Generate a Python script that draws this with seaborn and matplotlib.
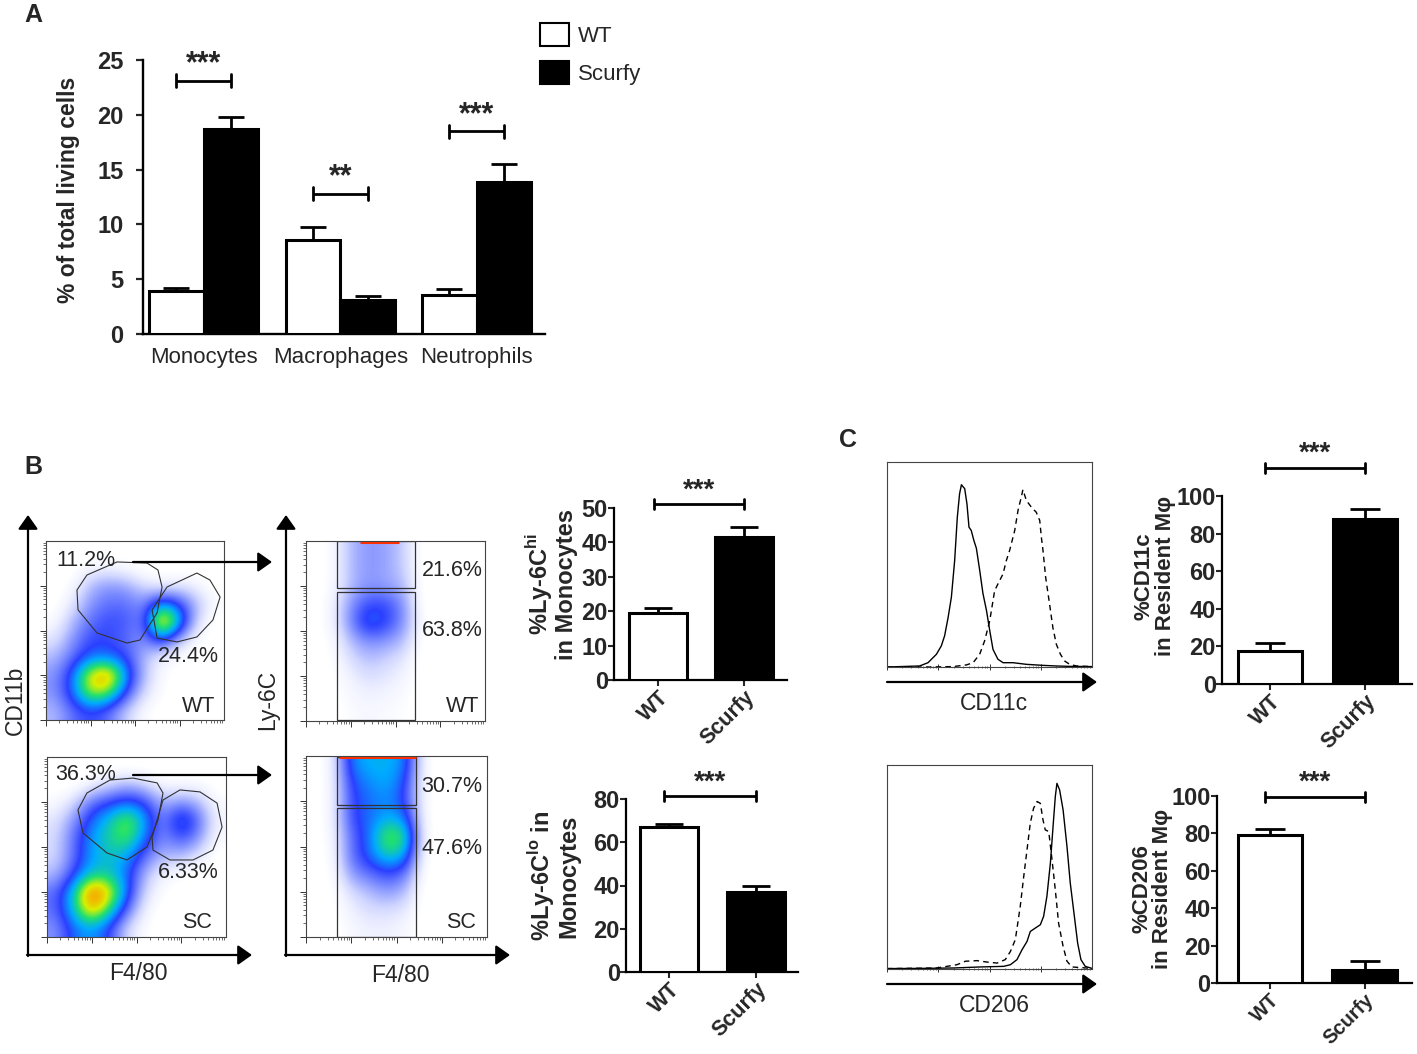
import numpy as np
import pandas as pd
import seaborn as sns
import matplotlib
matplotlib.use('Agg')
import matplotlib.pyplot as plt
from matplotlib.patches import Polygon, Rectangle, FancyArrowPatch
from matplotlib.colors import LinearSegmentedColormap

# ---------------- data ----------------
# Panel A
cells = ['Monocytes', 'Macrophages', 'Neutrophils']
wt_pct = [3.9, 8.6, 3.6]
wt_sem = [0.3, 1.2, 0.5]
sc_pct = [18.7, 3.1, 13.9]
sc_sem = [1.1, 0.4, 1.6]
sig_a_y = [23.1, 12.8, 18.5]
sig_a = ['***', '**', '***']

groups = ['WT', 'Scurfy']
# Panel B bar charts
ly6c_hi = [19.4, 41.7]
ly6c_hi_err = [1.4, 2.9]
ly6c_hi_sig = 51.1
ly6c_lo = [67.0, 36.8]
ly6c_lo_err = [1.4, 3.1]
ly6c_lo_sig = 81.2
# Panel C bar charts
cd11c_pos = [17.7, 87.6]
cd11c_err = [3.9, 5.3]
cd11c_sig = 115.0
cd206_pos = [78.9, 7.2]
cd206_err = [3.7, 4.4]
cd206_sig = 99.6

# Panel B flow plots: coarse density levels (rows top -> bottom, 10x10 on 0-100 scale)
cd11b_wt = [
    [0, 0, 0, 0, 0, 0, 0, 0, 0, 0],
    [0, 0, 0.5, 0.5, 0.3, 0, 0, 0, 0, 0],
    [0, 0.3, 1.5, 2, 1.8, 1, 0.5, 0.8, 0.5, 0],
    [0, 0.8, 2, 2.5, 2.5, 2, 4, 3, 1.5, 0.3],
    [0.3, 1.5, 2.5, 3, 2.8, 2.2, 8, 4.5, 1, 0],
    [0.8, 2, 3, 3, 2.5, 2, 3.5, 1.5, 0.3, 0],
    [1.5, 2.5, 3.5, 3.5, 3, 1.5, 0.5, 0.2, 0, 0],
    [2, 3.5, 6.5, 7.5, 4, 1.5, 0.3, 0, 0, 0],
    [2, 3.5, 6, 5.5, 3, 1, 0.2, 0, 0, 0],
    [1.5, 2.5, 3, 2.5, 1.2, 0.3, 0, 0, 0, 0],
]
cd11b_sc = [
    [0, 0, 0, 0, 0, 0, 0, 0, 0, 0],
    [0, 0, 0.5, 1, 1.5, 1, 0.3, 0.3, 0.3, 0],
    [0.3, 1, 2.5, 3, 3.5, 3, 1.5, 2, 1.5, 0.3],
    [0.8, 2, 3.5, 4.5, 5.8, 4, 2, 4.2, 2.5, 0.5],
    [1, 2.5, 4, 4.8, 5.5, 3.5, 2, 3, 2, 0.3],
    [1, 2.5, 4, 4.5, 4, 2.5, 1.5, 1.5, 0.8, 0],
    [1.5, 3, 4.5, 4.5, 3.5, 1.5, 0.5, 0.3, 0, 0],
    [2.5, 4.5, 8, 6.5, 3.5, 1, 0.2, 0, 0, 0],
    [2.5, 4.5, 7, 5, 2.5, 0.5, 0, 0, 0, 0],
    [2, 3.5, 4, 3, 1, 0.2, 0, 0, 0, 0],
]
ly6c_wt = [
    [0, 0.3, 1.5, 2, 1.8, 1.2, 0, 0, 0, 0],
    [0, 0.3, 1.5, 2, 1.8, 1.2, 0, 0, 0, 0],
    [0, 0.3, 1.5, 2, 1.8, 1.5, 0, 0, 0, 0],
    [0, 0.5, 2, 3, 3, 2, 0, 0, 0, 0],
    [0, 0.5, 2.2, 3.8, 3.2, 2, 0.2, 0, 0, 0],
    [0, 0.3, 1.5, 2.2, 2, 1.5, 0, 0, 0, 0],
    [0, 0.2, 1, 1.5, 1.2, 0.8, 0, 0, 0, 0],
    [0, 0.1, 0.6, 1, 0.8, 0.5, 0, 0, 0, 0],
    [0, 0.1, 0.4, 0.6, 0.5, 0.3, 0, 0, 0, 0],
    [0, 0, 0.3, 0.4, 0.3, 0.2, 0, 0, 0, 0],
]
ly6c_sc = [
    [0, 0.5, 3.8, 4.2, 4.2, 3.8, 0.3, 0, 0, 0],
    [0, 0.5, 3.2, 3.8, 4.2, 3.2, 0.3, 0, 0, 0],
    [0, 0.5, 3, 3.5, 3.8, 3, 0.3, 0, 0, 0],
    [0, 0.5, 3, 3.5, 4.2, 3.8, 0.3, 0, 0, 0],
    [0, 0.4, 2.5, 3.5, 5.8, 5.2, 0.3, 0, 0, 0],
    [0, 0.3, 2.5, 3.5, 4.8, 4.2, 0.2, 0, 0, 0],
    [0, 0.2, 2, 2.5, 3, 2.5, 0.1, 0, 0, 0],
    [0, 0.1, 1, 1.5, 2, 1.5, 0, 0, 0, 0],
    [0, 0.1, 0.6, 1, 1, 0.8, 0, 0, 0, 0],
    [0, 0, 0.4, 0.6, 0.6, 0.4, 0, 0, 0, 0],
]
# pile-up of events on the top edge of the Ly-6C plots (x range)
ly6c_wt_edge = (30, 52)
ly6c_sc_edge = (18, 61)

# gates (F4/80, CD11b) on a 0-100 scale
gate_mono_wt = [(17.4, 72.6), (23.0, 81.0), (39.9, 88.3), (56.7, 87.7), (62.9, 83.8), (65.2, 74.3),
                (62.4, 59.8), (52.8, 44.7), (45.5, 43.0), (28.7, 48.6), (18.0, 61.5)]
gate_mac_wt = [(59.6, 61.5), (68.0, 74.3), (84.8, 82.1), (92.1, 78.2), (97.8, 68.7), (93.8, 55.9),
               (84.8, 46.4), (73.6, 43.6), (62.4, 45.8)]
gate_mono_sc = [(17.3, 70.6), (22.3, 80.0), (35.2, 87.2), (48.0, 88.3), (61.5, 85.6), (64.8, 80.0),
                (62.0, 65.0), (55.9, 50.0), (44.7, 42.8), (33.5, 46.7), (20.1, 57.8)]
gate_mac_sc = [(58.7, 55.6), (64.8, 76.1), (74.3, 81.7), (85.5, 80.6), (95.0, 74.4), (97.8, 61.1),
               (92.7, 48.3), (81.6, 42.8), (68.7, 42.8), (59.2, 48.3)]
# Ly-6C gates (x0, x1, y0, y1)
gates_ly6c_wt = [(17.3, 60.9, 73.9, 100), (17.3, 60.9, 0.6, 71.7)]
gates_ly6c_sc = [(17.1, 60.8, 73.0, 99.4), (17.1, 60.8, 0, 71.3)]

# Panel C histograms (channel 0-100, % of max)
cd11c_x_wt = [0, 15.9, 20.0, 24.1, 26.5, 28.1, 29.8, 31.4, 33.0, 34.3, 35.4, 36.3, 37.9, 39.0, 40.0, 41.1,
              42.3, 43.6, 45.2, 46.8, 48.5, 50.1, 51.7, 54.1, 56.6, 61.5, 68.0, 76.1, 82.6, 89.1, 100]
cd11c_y_wt = [0, 0.5, 2.1, 6.2, 10.3, 15.2, 24.1, 34.0, 51.9, 73.1, 84.5, 88.9, 87.0, 79.6, 68.2, 66.6,
              62.0, 57.9, 47.3, 35.9, 27.7, 17.9, 8.6, 3.8, 2.1, 2.1, 1.3, 0.8, 0.5, 0.3, 0.2]
cd11c_x_sc = [0, 20.8, 32.2, 38.7, 42.0, 45.2, 47.6, 50.1, 52.5, 54.1, 56.6, 58.2, 59.8, 62.3, 63.9, 65.5,
              66.3, 68.0, 70.4, 72.8, 74.5, 75.3, 76.1, 77.4, 79.3, 80.9, 82.6, 84.6, 86.7, 89.1, 92.4, 100]
cd11c_y_sc = [0, 0, 0.2, 1.0, 2.1, 6.2, 12.7, 22.5, 37.2, 40.5, 45.4, 51.9, 56.8, 66.6, 76.3, 82.9,
              86.5, 81.2, 78.0, 75.5, 71.5, 63.3, 56.8, 43.7, 30.7, 19.3, 11.1, 6.2, 2.9, 1.3, 0.5, 0.2]
cd206_x_wt = [0, 16.3, 32.5, 45.5, 56.9, 60.2, 63.4, 65.9, 68.3, 69.9, 72.4, 74.8, 76.4, 78.0, 79.7, 81.0,
              82.1, 82.9, 84.2, 85.9, 87.8, 89.4, 91.4, 93.0, 94.6, 96.7, 100]
cd206_y_wt = [0.2, 0.3, 0.5, 1.0, 1.3, 2.1, 4.6, 9.5, 13.5, 18.4, 20.1, 21.7, 25.8, 35.6, 51.9, 69.8,
              84.5, 91.0, 87.8, 78.0, 60.0, 42.1, 25.8, 12.7, 4.6, 1.3, 0.3]
cd206_x_sc = [0, 24.4, 34.1, 38.2, 43.9, 48.8, 53.7, 57.7, 60.2, 62.6, 65.0, 66.7, 68.3, 69.9, 71.5, 73.2,
              74.8, 76.1, 77.2, 78.9, 80.5, 82.1, 83.7, 85.9, 87.8, 90.2, 100]
cd206_y_sc = [0.2, 0.5, 2.1, 3.8, 4.1, 3.4, 2.9, 4.6, 8.6, 14.4, 30.7, 45.4, 58.4, 71.5, 78.8, 82.1,
              81.2, 73.1, 68.2, 67.4, 53.5, 38.8, 22.5, 11.1, 3.8, 1.0, 0.3]

# ---------------- figure setup ----------------
W, H = 1417, 1054
sns.set_theme(style='white')
plt.rcParams['font.family'] = ['Liberation Sans', 'DejaVu Sans']
plt.rcParams['mathtext.fontset'] = 'custom'
plt.rcParams['mathtext.rm'] = 'Liberation Sans'
plt.rcParams['mathtext.bf'] = 'Liberation Sans:bold'
plt.rcParams['axes.edgecolor'] = 'black'

fig = plt.figure(figsize=(W / 100, H / 100), dpi=100)
pal = {'WT': 'white', 'Scurfy': 'black'}


def px_axes(x0, y0, x1, y1):
    return fig.add_axes([x0 / W, 1 - y1 / H, (x1 - x0) / W, (y1 - y0) / H])


def ftext(x, y, s, **kw):
    fig.text(x / W, 1 - y / H, s, **kw)


def farrow(x0, y0, x1, y1, lw=1.6):
    fig.add_artist(FancyArrowPatch((x0 / W, 1 - y0 / H), (x1 / W, 1 - y1 / H),
                                   transform=fig.transFigure,
                                   arrowstyle='-|>,head_length=0.85,head_width=0.6',
                                   mutation_scale=10, lw=lw, color='black',
                                   shrinkA=0, shrinkB=0))


def sig_bar(ax, x0, x1, y, label, tick, size=18):
    ax.plot([x0, x1], [y, y], color='black', lw=2, clip_on=False, solid_capstyle='butt')
    for x in (x0, x1):
        ax.plot([x, x], [y - tick, y + tick], color='black', lw=2, clip_on=False)
    ax.text((x0 + x1) / 2, y + tick * 0.2, label, ha='center', va='bottom',
            fontsize=size, fontweight='bold', clip_on=False)


def add_errors(ax, bars, errs, capsize):
    for bar, e in zip(bars, errs):
        cx = bar.get_x() + bar.get_width() / 2
        top = bar.get_height()
        ax.errorbar(cx, top, yerr=[[0], [e]], fmt='none', ecolor='black',
                    elinewidth=2, capsize=capsize, capthick=2, zorder=1)


def small_bar(rect, vals, errs, ylim, ystep, xlim, sig_y, width, capsize):
    ax = px_axes(*rect)
    df = pd.DataFrame({'group': groups, 'value': vals})
    sns.barplot(data=df, x='group', y='value', hue='group', palette=pal,
                edgecolor='black', linewidth=2.2, width=width, errorbar=None,
                legend=False, ax=ax, zorder=3)
    add_errors(ax, ax.patches[:2], errs, capsize)
    ax.set_ylim(0, ylim)
    ax.set_xlim(*xlim)
    ax.set_yticks(np.arange(0, ylim + 1, ystep))
    ax.set_xlabel('')
    ax.set_ylabel('')
    for s in ['top', 'right']:
        ax.spines[s].set_visible(False)
    for s in ['left', 'bottom']:
        ax.spines[s].set_linewidth(1.6)
    ax.tick_params(axis='y', direction='out', length=4, width=1.5, pad=0.5, left=True,
                   labelsize=17)
    ax.tick_params(axis='x', direction='out', length=4, width=1.5, bottom=True, pad=1,
                   labelsize=15.5)
    for t in ax.get_yticklabels():
        t.set_fontweight('bold')
    ax.set_xticks([0, 1])
    ax.set_xticklabels(groups, rotation=45, ha='right', va='top', rotation_mode='anchor',
                       fontweight='bold')
    ax.set_facecolor('none')
    px_unit = (rect[3] - rect[1]) / ylim
    sig_bar(ax, -0.05, 1.0, sig_y, '***', 5 / px_unit, size=20)
    return ax


def log_ticks(ax, axes='xy', direction='out'):
    minors = 25 * np.log10(np.arange(1, 10)[None, :] * 10.0 ** np.arange(4)[:, None]).ravel()
    majors = [0, 25, 50, 75]
    if 'x' in axes:
        ax.set_xticks(majors)
        ax.set_xticks(minors, minor=True)
        ax.tick_params(axis='x', which='major', bottom=True, length=4, width=0.7,
                       direction=direction, labelbottom=False, color='#333333')
        ax.tick_params(axis='x', which='minor', bottom=True, length=2, width=0.5,
                       direction=direction, color='#333333')
    else:
        ax.set_xticks([])
    if 'y' in axes:
        ax.set_yticks(majors)
        ax.set_yticks(minors, minor=True)
        ax.tick_params(axis='y', which='major', left=True, length=4, width=0.7,
                       direction=direction, labelleft=False, color='#333333')
        ax.tick_params(axis='y', which='minor', left=True, length=2, width=0.5,
                       direction=direction, color='#333333')
    else:
        ax.set_yticks([])


flow_cmap = LinearSegmentedColormap.from_list('flow', [
    (0.0, '#ffffff'), (0.06, '#eef0ff'), (0.125, '#cfd5ff'), (0.25, '#7c8cff'),
    (0.375, '#2a40ff'), (0.5, '#00aaff'), (0.625, '#20e070'), (0.75, '#d8f000'),
    (0.875, '#ff9a00'), (1.0, '#ff1000')])
flow_cmap.set_under('white')


def flow_plot(rect, grid):
    ax = px_axes(*rect)
    ax.imshow(np.array(grid, dtype=float), extent=(0, 100, 0, 100), origin='upper',
              cmap=flow_cmap, vmin=0.15, vmax=8, interpolation='bicubic', aspect='auto')
    ax.set_xlim(0, 100)
    ax.set_ylim(0, 100)
    for s in ax.spines.values():
        s.set_linewidth(0.8)
        s.set_color('#444444')
    log_ticks(ax)
    return ax


# ---------------- Panel A ----------------
axA = px_axes(143, 60, 545, 334)
dfA = pd.DataFrame({'cell': cells * 2,
                    'group': ['WT'] * 3 + ['Scurfy'] * 3,
                    'pct': wt_pct + sc_pct})
sns.barplot(data=dfA, x='cell', y='pct', hue='group', hue_order=groups, palette=pal,
            edgecolor='black', linewidth=2.2, width=0.8, errorbar=None, legend=False,
            ax=axA, zorder=3)
for cont, errs in zip(axA.containers, [wt_sem, sc_sem]):
    add_errors(axA, cont, errs, capsize=9.5)
axA.set_xlim(-0.445, 2.5)
axA.set_ylim(0, 25)
axA.set_yticks([0, 5, 10, 15, 20, 25])
axA.set_xlabel('')
axA.set_ylabel('')
for s in ['top', 'right']:
    axA.spines[s].set_visible(False)
for s in ['left', 'bottom']:
    axA.spines[s].set_linewidth(1.7)
axA.tick_params(axis='y', left=True, direction='out', length=5, width=1.6, pad=9,
                labelsize=17)
axA.tick_params(axis='x', length=0, pad=9, labelsize=16)
for t in axA.get_yticklabels():
    t.set_fontweight('bold')
axA.set_facecolor('none')
for i, (y, lab) in enumerate(zip(sig_a_y, sig_a)):
    sig_bar(axA, i - 0.2, i + 0.2, y, lab, 0.6, size=22)
ftext(68, 190, '% of total living cells', rotation=90, ha='center', va='center',
      fontsize=16.5, fontweight='bold')
ftext(33, 15, 'A', ha='center', va='center', fontsize=18, fontweight='bold')

handles = [Rectangle((0, 0), 1, 1, fc='white', ec='black', lw=1.5),
           Rectangle((0, 0), 1, 1, fc='black', ec='black', lw=1.5)]
fig.legend(handles, groups, loc='upper left', bbox_to_anchor=(540 / W, 1 - 23 / H),
           frameon=False, fontsize=16, handlelength=1.3, handleheight=1.2,
           labelspacing=0.65, handletextpad=0.4, borderpad=0, borderaxespad=0)

# ---------------- Panel B: flow plots ----------------
ftext(33, 467, 'B', ha='center', va='center', fontsize=18, fontweight='bold')
p1 = flow_plot((46, 541, 224, 720), cd11b_wt)
p2 = flow_plot((47, 757, 226, 937), cd11b_sc)
p3 = flow_plot((306, 541, 485, 721), ly6c_wt)
p4 = flow_plot((306, 756, 487, 937), ly6c_sc)
for ax, gates in ((p1, [gate_mono_wt, gate_mac_wt]), (p2, [gate_mono_sc, gate_mac_sc])):
    for g in gates:
        ax.add_patch(Polygon(g, closed=True, fill=False, ec='#333333', lw=0.8))
for ax, gates, edge in ((p3, gates_ly6c_wt, ly6c_wt_edge), (p4, gates_ly6c_sc, ly6c_sc_edge)):
    for x0, x1, y0, y1 in gates:
        ax.add_patch(Rectangle((x0, y0), x1 - x0, y1 - y0, fill=False, ec='#333333', lw=0.9))
    ax.plot(edge, [99.4, 99.4], color='#ff3000', lw=2.2, solid_capstyle='butt')

flow_text = [(86, 560, '11.2%'), (188, 657, '24.4%'), (199, 707, 'WT'),
             (86, 774, '36.3%'), (188, 872, '6.33%'), (197, 923, 'SC'),
             (452, 571, '21.6%'), (452, 631, '63.8%'), (463, 707, 'WT'),
             (452, 787, '30.7%'), (452, 848, '47.6%'), (461, 923, 'SC')]
for x, y, s in flow_text:
    ftext(x, y, s, ha='center', va='center', fontsize=15.5)

farrow(133, 562, 272, 562)
farrow(133, 775, 272, 775)
# big axis arrows
farrow(28, 956, 28, 515)
farrow(27, 955, 252, 955)
farrow(286, 956, 286, 515)
farrow(285, 955, 510, 955)
ftext(15, 700, 'CD11b', rotation=90, ha='center', va='center', fontsize=16.5)
ftext(138, 974, 'F4/80', ha='center', va='center', fontsize=16.5)
ftext(268, 700, 'Ly-6C', rotation=90, ha='center', va='center', fontsize=16.5)
ftext(400, 975, 'F4/80', ha='center', va='center', fontsize=16.5)

# ---------------- Panel B: bar charts ----------------
small_bar((614, 508, 787, 680), ly6c_hi, ly6c_hi_err, 50, 10, (-0.51, 1.5), ly6c_hi_sig, 0.67, 10)
ftext(551, 584, '%Ly-6C$^{\\bf hi}$\nin Monocytes', rotation=90, ha='center', va='center',
      fontsize=17, fontweight='bold', multialignment='center', linespacing=1.0)
small_bar((626, 799, 798, 972), ly6c_lo, ly6c_lo_err, 80, 20, (-0.49, 1.48), ly6c_lo_sig, 0.67, 10)
ftext(553, 876, '%Ly-6C$^{\\bf lo}$ in\nMonocytes', rotation=90, ha='center', va='center',
      fontsize=17, fontweight='bold', multialignment='center', linespacing=1.0)

# ---------------- Panel C ----------------
ftext(848, 440, 'C', ha='center', va='center', fontsize=18, fontweight='bold')
for rect, xs, ys, label, ly in (((887, 462, 1092, 667), (cd11c_x_wt, cd11c_x_sc),
                                 (cd11c_y_wt, cd11c_y_sc), 'CD11c', 703),
                                ((887, 765, 1092, 969), (cd206_x_wt, cd206_x_sc),
                                 (cd206_y_wt, cd206_y_sc), 'CD206', 1006)):
    ax = px_axes(*rect)
    ax.plot(xs[0], ys[0], color='black', lw=1.0)
    ax.plot(xs[1], ys[1], color='black', lw=1.0, dashes=(4, 3))
    ax.set_xlim(0, 100)
    ax.set_ylim(0, 100)
    for s in ax.spines.values():
        s.set_linewidth(0.8)
        s.set_color('#444444')
    log_ticks(ax, axes='x', direction='inout')
    farrow(887, rect[3] + 15, 1097, rect[3] + 15)
    ftext(994, ly, label, ha='center', va='center', fontsize=16.5)

small_bar((1222, 496, 1412, 684), cd11c_pos, cd11c_err, 100, 20, (-0.51, 1.5), cd11c_sig, 0.676, 11)
ftext(1155, 576, '%CD11c\nin Resident M\u03c6', rotation=90, ha='center', va='center',
      fontsize=16, fontweight='bold', multialignment='center', linespacing=1.0)
ax_c2 = small_bar((1217, 796, 1412, 983), cd206_pos, cd206_err, 100, 20, (-0.555, 1.5),
                  cd206_sig, 0.676, 11)
ax_c2.tick_params(axis='x', labelsize=14.5)
ftext(1152, 889, '%CD206\nin Resident M\u03c6', rotation=90, ha='center', va='center',
      fontsize=16, fontweight='bold', multialignment='center', linespacing=1.0)

fig.savefig('out.png', dpi=100)
